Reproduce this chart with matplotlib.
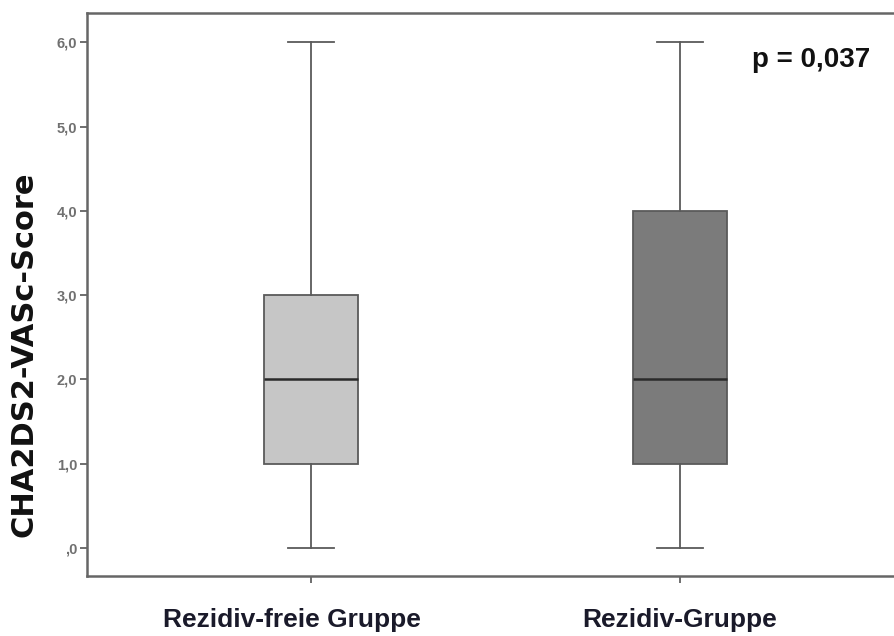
import matplotlib
matplotlib.use("Agg")
import matplotlib.pyplot as plt
from matplotlib.transforms import ScaledTranslation

plt.rcParams['font.family'] = ['Liberation Sans', 'DejaVu Sans']

groups = ["Rezidiv-freie Gruppe", "Rezidiv-Gruppe"]
whislo = [0.0, 0.0]
q1 = [1.0, 1.0]
med = [2.0, 2.0]
q3 = [3.0, 4.0]
whishi = [6.0, 6.0]
fills = ["#c6c6c6", "#7b7b7b"]
yticks = [0, 1, 2, 3, 4, 5, 6]
yticklabels = [",0", "1,0", "2,0", "3,0", "4,0", "5,0", "6,0"]
ylabel = "CHA2DS2-VASc-Score"
ptext = "p = 0,037"

fig = plt.figure(figsize=(8.95, 6.36), dpi=100)
L, R = 87 / 895, 895 / 895
B, T = 1 - 576 / 636, 1 - 13 / 636
ax = fig.add_axes([L, B, R - L, T - B])

stats = []
for i, g in enumerate(groups):
    stats.append(dict(label=g, whislo=whislo[i], q1=q1[i], med=med[i],
                      q3=q3[i], whishi=whishi[i], fliers=[]))

edge = "#5a5a5a"
bp = ax.bxp(stats, positions=[1, 2], widths=0.255, patch_artist=True,
            showfliers=False, capwidths=0.125,
            boxprops=dict(edgecolor=edge, linewidth=1.3),
            whiskerprops=dict(color=edge, linewidth=1.3),
            capprops=dict(color=edge, linewidth=1.3),
            medianprops=dict(color="#2a2a2a", linewidth=1.8))
for patch, c in zip(bp['boxes'], fills):
    patch.set_facecolor(c)

ax.set_xlim(0.393, 2.583)
ax.set_ylim(-0.332, 6.347)
ax.set_yticks(yticks)
ax.set_yticklabels(yticklabels, fontsize=10.5, fontweight='bold', color="#707070")
ax.set_xticks([1, 2])
ax.set_xticklabels(groups, fontsize=19, fontweight='bold', color="#1a1a2a")
ax.tick_params(axis='y', length=5, width=1.2, color="#555555", pad=2)
ax.tick_params(axis='x', length=5, width=1.2, color="#555555", pad=18)
for s in ax.spines.values():
    s.set_color("#666666")
    s.set_linewidth(1.8)

# first group label sits slightly left of its box in the reference
lbl0 = ax.get_xticklabels()[0]
lbl0.set_transform(lbl0.get_transform() + ScaledTranslation(-0.19, 0, fig.dpi_scale_trans))

ax.set_ylabel(ylabel, fontsize=22, fontweight='bold', color="#111111",
              family='DejaVu Sans')
ax.yaxis.set_label_coords(-0.0606, 0.394)
ax.text(0.969, 0.9165, ptext, transform=ax.transAxes, fontsize=20,
        fontweight='bold', color="#111111", ha='right', va='center')

fig.savefig("out.png", dpi=100)
